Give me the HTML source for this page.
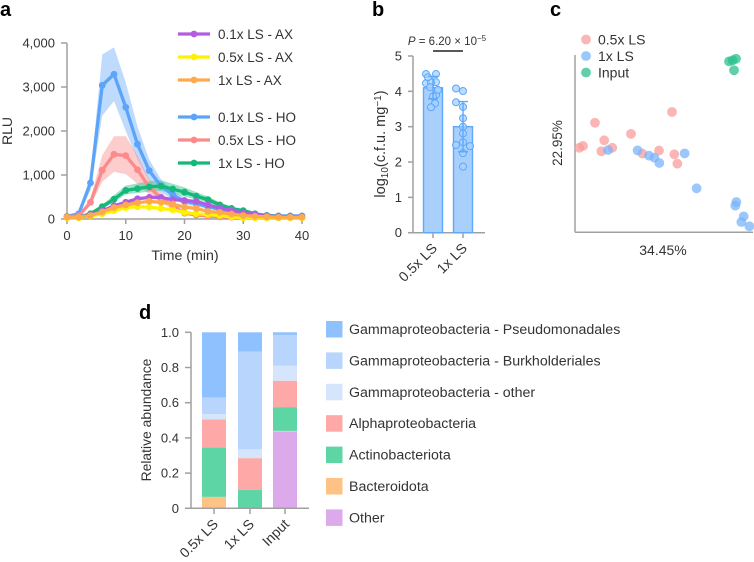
<!DOCTYPE html>
<html><head><meta charset="utf-8"><title>Figure</title>
<style>
html,body{margin:0;padding:0;background:#fff;width:754px;height:562px;overflow:hidden}
svg{display:block;font-family:"Liberation Sans",sans-serif}
text{fill:#333;font-size:13px}
.p{font-weight:bold;font-size:20px;fill:#000}
</style></head>
<body>
<svg id="fig" width="754" height="562" viewBox="0 0 754 562" xmlns="http://www.w3.org/2000/svg">
<text class="p" x="0" y="16">a</text>
<text class="p" x="372" y="16">b</text>
<text class="p" x="550" y="16">c</text>
<text class="p" x="139" y="319">d</text>
<g id="a"></g>
<g id="b"></g>
<g id="c"></g>
<g id="d"></g>
</svg>
<script>
// Panel a data
const timePoints=[0,2,4,6,8,10,12,14,16,18,20,22,24,26,28,30,32,34,36,38,40];
const rluTicks=[0,1000,2000,3000,4000];
const timeTicks=[0,10,20,30,40];
const ax01=[40,40,90,180,300,380,460,490,490,440,420,400,320,250,200,130,110,70,50,45,45];
const ax05=[30,30,70,120,190,260,280,270,240,210,150,120,100,80,50,30,30,30,30,30,30];
const ax1=[40,40,80,160,260,320,370,400,380,340,270,240,170,150,110,80,60,50,40,40,40];
const ho01=[60,120,820,3040,3290,2540,1700,1100,750,550,400,350,280,220,170,130,100,80,70,70,70];
const ho01Upper=[80,150,1000,3740,3900,3100,2100,1350,900,650,480,410,330,260,200,150,115,90,80,80,80];
const ho01Lower=[40,90,650,2350,2680,2000,1350,850,600,450,320,290,230,180,140,110,85,70,60,60,60];
const ho05=[50,70,380,1110,1470,1440,1120,720,480,300,130,90,70,50,40,30,30,30,30,30,30];
const ho05Upper=[60,90,470,1450,1880,1880,1450,900,600,370,170,110,85,60,50,40,40,40,40,40,40];
const ho05Lower=[40,50,300,850,1070,1020,800,550,370,230,100,70,55,40,30,20,20,20,20,20,20];
const ho1=[40,40,120,280,450,650,690,730,750,680,610,520,440,320,240,190,120,80,60,50,50];
const ho1Upper=[50,50,150,330,540,760,810,860,880,800,720,610,510,380,280,220,140,95,70,60,60];
const ho1Lower=[30,30,90,230,380,560,590,620,640,580,510,440,370,270,200,160,100,65,50,40,40];
const legendALabels=["0.1x LS - AX","0.5x LS - AX","1x LS - AX","0.1x LS - HO","0.5x LS - HO","1x LS - HO"];
// Panel b data
const cfuCategories=["0.5x LS","1x LS"];
const cfuMeans=[4.1,3.0];
const cfuErrLow=[3.79,2.29];
const cfuErrHigh=[4.42,3.71];
const cfuTicks=[0,1,2,3,4,5];
const cfuPoints1=[4.49,4.49,4.23,4.26,4.25,4.4,3.9,3.85,3.66,3.55,4.04,4.12];
const cfuJitter1=[-7,3,-7,3,-2,-5,3,0,2,-2,5,-3];
const cfuPoints2=[4.08,4.01,3.69,3.56,3.24,3.0,2.81,2.56,2.48,2.45,2.25,1.87];
const cfuJitter2=[-7,0,-7,0,0,0,0,0,-7,7,0,0];
// Panel c data
const redX=[2.4,4.5,11.2,16.4,14.8,20.9,31.4,37.8,47.1,54.4,55.7,57.4];
const redY=[47.7,48.7,61.8,51.9,45.7,47.7,55.5,44.4,46.1,67.9,44,38.7];
const blueX=[18.5,35.1,41.5,44.5,47.3,61.5,68.2,90.5,89.9,94.6,93.3,97.8];
const blueY=[46.4,46.2,43.2,42.1,39.1,44.5,24.8,17.1,15,9,5.8,3.4];
const greenX=[86.4,88.4,90.3,89.2];
const greenY=[96.4,97,97.9,91.4];
// Panel d data
const taxaCategories=["0.5x LS","1x LS","Input"];
const taxaNames=["Other","Bacteroidota","Actinobacteriota","Alphaproteobacteria","Gammaproteobacteria - other","Gammaproteobacteria - Burkholderiales","Gammaproteobacteria - Pseudomonadales"];
const otherVals=[0.005,0,0.435];
const bacteroidotaVals=[0.06,0,0.005];
const actinoVals=[0.28,0.105,0.135];
const alphaVals=[0.16,0.18,0.15];
const gammaOtherVals=[0.03,0.05,0.085];
const burkVals=[0.095,0.555,0.175];
const pseudoVals=[0.37,0.11,0.015];
const abundanceTicks=[0,0.2,0.4,0.6,0.8,1.0];

const NS="http://www.w3.org/2000/svg";
const AXC="#a0a0a0";
function mk(parent,tag,attrs,txt){
  const e=document.createElementNS(NS,tag);
  for(const k in attrs)e.setAttribute(k,attrs[k]);
  if(txt!==undefined)e.textContent=txt;
  parent.appendChild(e);
  return e;
}
function line(p,x1,y1,x2,y2,name,c,w){
  const e=mk(p,'line',{x1,y1,x2,y2,stroke:c||AXC,'stroke-width':w||1.5});
  
  
  return e;
}
function label(p,x,y,s,name,anchor,rot,size){
  const a={x,y,'text-anchor':anchor||'start'};
  if(rot)a.transform='rotate('+rot+' '+x+' '+y+')';
  if(size)a.style='font-size:'+size+'px';
  const e=mk(p,'text',a,s);
  
  
  return e;
}

// ---------- Panel a
(function(){
  const g=document.getElementById('a');
  const X=t=>67+t*(302-67)/40, Y=v=>219-v*(219-43)/4000;
  line(g,67,43,67,219,'y-axis');
  line(g,67,219,302,219,'x-axis');
  rluTicks.forEach(v=>{
    line(g,61,Y(v),67,Y(v),'y-tick');
    label(g,55,Y(v)+4.5,v===0?'0':v.toLocaleString('en-US'),'y-tick-label','end');
  });
  timeTicks.forEach(t=>{
    line(g,X(t),219,X(t),224,'x-tick');
    label(g,X(t),240,String(t),'x-tick-label','middle');
  });
  label(g,12,131,'RLU','y-axis-title','middle',-90,14);
  label(g,185,260,'Time (min)','x-axis-title','middle',0,14.2);
  function band(up,lo,c,name){
    const pts=timePoints.map((t,i)=>X(t)+','+Y(up[i]));
    const pts2=timePoints.map((t,i)=>X(t)+','+Y(lo[i])).reverse();
    const e=mk(g,'polygon',{points:pts.concat(pts2).join(' '),fill:c,'fill-opacity':0.5});
    
    
  }
  function series(v,c,name){
    const e=mk(g,'polyline',{points:timePoints.map((t,i)=>X(t)+','+Y(v[i])).join(' '),fill:'none',stroke:c,'stroke-width':3.3,'stroke-linejoin':'round'});
    
    
    timePoints.forEach((t,i)=>{
      const d=mk(g,'circle',{cx:X(t),cy:Y(v[i]),r:3.4,fill:c});
      
      
    });
  }
  const BL='#5ca4f9',RD='#fb8a8a',GN='#14b87a',PU='#b45ce0',YE='#fff200',OR='#ffa94d';
  band(ho01Upper,ho01Lower,'#7db7fb','band-0.1x-ho');
  band(ho05Upper,ho05Lower,'#fc9a9a','band-0.5x-ho');
  band(ho1Upper,ho1Lower,'#3cc893','band-1x-ho');
  series(ho01,BL,'line-0.1x-ho');
  series(ho05,RD,'line-0.5x-ho');
  series(ho1,GN,'line-1x-ho');
  series(ax01,PU,'line-0.1x-ax');
  series(ax05,YE,'line-0.5x-ax');
  series(ax1,OR,'line-1x-ax');
  const ly=[34,57,80,117,140,163], lc=[PU,YE,OR,BL,RD,GN];
  legendALabels.forEach((s,i)=>{
    line(g,178,ly[i],210,ly[i],'legend-line',lc[i],3.3);
    const d=mk(g,'circle',{cx:194,cy:ly[i],r:3.4,fill:lc[i]});
    
    
    label(g,218,ly[i]+5,s,'legend-entry','start',0,13.5);
  });
})();

// ---------- Panel b
(function(){
  const g=document.getElementById('b');
  const Y=v=>232.7-v*(232.7-56)/5;
  const cx=[433,463];
  line(g,413,56,413,232.7,'y-axis');
  line(g,408,232.7,485,232.7,'x-axis');
  cfuTicks.forEach(v=>{
    line(g,408,Y(v),413,Y(v),'y-tick');
    label(g,402,Y(v)+4.5,String(v),'y-tick-label','end');
  });
  const yt=mk(g,'text',{x:385,y:144,'text-anchor':'middle',transform:'rotate(-90 385 144)',style:'font-size:14.5px'});
  
  
  yt.innerHTML='log<tspan dy="3" font-size="10">10</tspan><tspan dy="-3">(c.f.u. mg</tspan><tspan dy="-4" font-size="10">−1</tspan><tspan dy="4">)</tspan>';
  cfuCategories.forEach((s,i)=>{
    const r=mk(g,'rect',{x:cx[i]-9.5,y:Y(cfuMeans[i]),width:19,height:Y(0)-Y(cfuMeans[i]),fill:'#a9d0fd',stroke:'#5ca8fb','stroke-width':1.4});
    
    
    line(g,cx[i],232.7,cx[i],238,'x-tick');
    label(g,cx[i]+5,249,s,'x-tick-label','end',-45,14);
  });
  [[cfuPoints1,cfuJitter1],[cfuPoints2,cfuJitter2]].forEach((set,k)=>{
    set[0].forEach((v,i)=>{
      const c=mk(g,'circle',{cx:cx[k]+set[1][i],cy:Y(v),r:3.5,fill:'#a9d0fd','fill-opacity':0.75,stroke:'#5ca8fb','stroke-width':1});
      
      
    });
    line(g,cx[k],Y(cfuErrLow[k]),cx[k],Y(cfuErrHigh[k]),'error-bar','#5ca8fb',1.4);
    line(g,cx[k]-5,Y(cfuErrLow[k]),cx[k]+5,Y(cfuErrLow[k]),'error-cap','#5ca8fb',1.4);
    line(g,cx[k]-5,Y(cfuErrHigh[k]),cx[k]+5,Y(cfuErrHigh[k]),'error-cap','#5ca8fb',1.4);
  });
  line(g,433,51,463,51,'significance-bar','#222',1.4);
  const pt=mk(g,'text',{x:447,y:45,'text-anchor':'middle',style:'font-size:11.5px'});
  
  
  pt.innerHTML='<tspan font-style="italic">P</tspan> = 6.20 × 10<tspan dy="-4" font-size="8">−5</tspan>';
})();

// ---------- Panel c
(function(){
  const g=document.getElementById('c');
  const X=v=>575+v*1.783, Y=v=>232.3-v*1.773;
  line(g,575,55,575,232.3,'y-axis');
  line(g,575,232.3,753,232.3,'x-axis');
  label(g,562,143,'22.95%','y-axis-title','middle',-90,13.5);
  label(g,663,255,'34.45%','x-axis-title','middle',0,14);
  function pts(xs,ys,c,name){
    xs.forEach((x,i)=>{
      const e=mk(g,'circle',{cx:X(x),cy:Y(ys[i]),r:4.9,fill:c,'fill-opacity':0.75});
      
      
    });
  }
  pts(redX,redY,'#fb9c9c','point-0.5x-ls');
  pts(blueX,blueY,'#79b4fb','point-1x-ls');
  pts(greenX,greenY,'#2cc08c','point-input');
  [['0.5x LS','#fb9c9c',39.5],['1x LS','#79b4fb',56],['Input','#2cc08c',72.5]].forEach(r=>{
    const e=mk(g,'circle',{cx:586,cy:r[2],r:4.9,fill:r[1],'fill-opacity':0.75});
    
    
    label(g,598,r[2]+5,r[0],'legend-entry','start',0,14);
  });
})();

// ---------- Panel d
(function(){
  const g=document.getElementById('d');
  const Y=v=>508.3-v*(508.3-332.3);
  const cx=[214,250,285];
  const stacks=[otherVals,bacteroidotaVals,actinoVals,alphaVals,gammaOtherVals,burkVals,pseudoVals];
  const colors=['#dcaaea','#ffc285','#5dd5a5','#ffa8a8','#d5e5fb','#b8d6fd','#8fc1ff'];
  taxaCategories.forEach((s,i)=>{
    let acc=0;
    stacks.forEach((vals,k)=>{
      const v=vals[i];
      const r=mk(g,'rect',{x:cx[i]-12,y:Y(acc+v),width:24,height:Y(acc)-Y(acc+v),fill:colors[k]});
      
      
      acc+=v;
    });
  });
  line(g,191,332.3,191,508.3,'y-axis');
  line(g,191,508.3,309,508.3,'x-axis');
  abundanceTicks.forEach(v=>{
    line(g,185,Y(v),191,Y(v),'y-tick');
    label(g,179,Y(v)+4.5,v===0?'0':v.toFixed(1),'y-tick-label','end');
  });
  label(g,151,420,'Relative abundance','y-axis-title','middle',-90,13.9);
  taxaCategories.forEach((s,i)=>{
    line(g,cx[i],508.3,cx[i],514,'x-tick');
    label(g,cx[i]+5,525,s,'x-tick-label','end',-45,14);
  });
  for(let i=0;i<7;i++){
    const k=6-i, y=329+i*31.4;
    const r=mk(g,'rect',{x:326,y:y-8,width:16.5,height:16.5,fill:colors[k]});
    
    
    label(g,349,y+5,taxaNames[k],'legend-entry','start',0,14.2);
  }
})();
</script>
</body></html>
